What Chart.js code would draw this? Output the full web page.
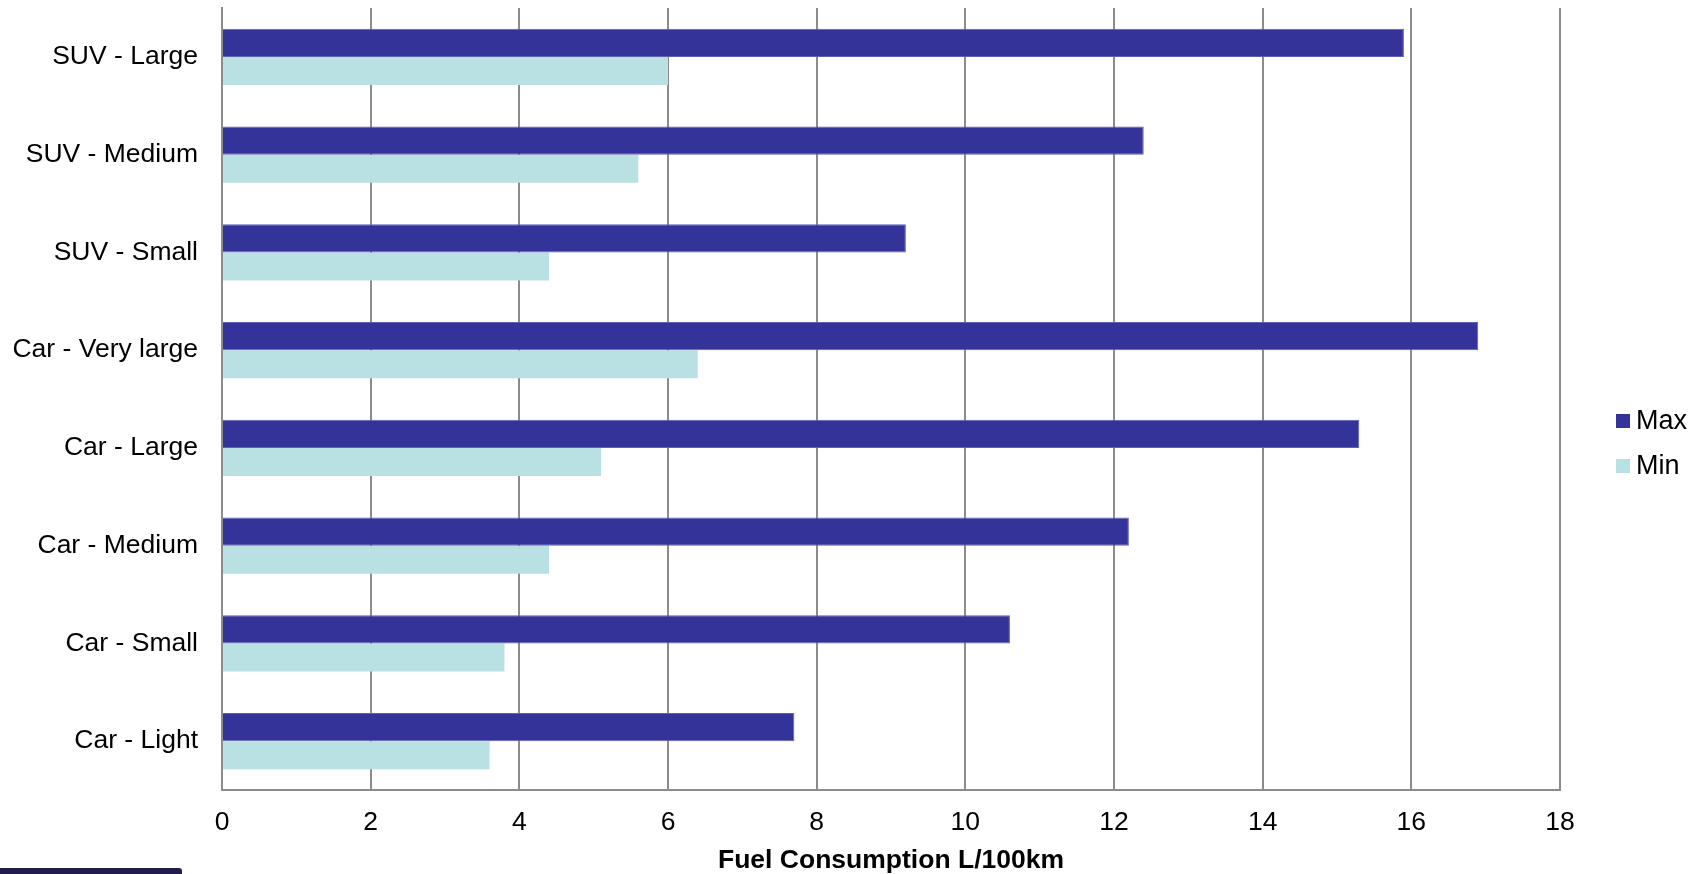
<!DOCTYPE html>
<html>
<head>
<meta charset="utf-8">
<title>Fuel Consumption</title>
<script src="https://cdn.jsdelivr.net/npm/chart.js@4/dist/chart.umd.min.js"></script>
<style>
    html, body { margin: 0; padding: 0; background: #fff; }
    #wrap { position: relative; width: 1701px; height: 874px; }
    #legend {
        position: absolute; left: 1616px; top: 398px;
        font-family: "Liberation Sans", Arial, sans-serif; font-size: 27px; color: #000;
    }
    .legend-item { display: flex; align-items: center; height: 45px; }
    .legend-box { width: 14px; height: 14px; margin-right: 6px; }
    #corner {
        position: absolute; left: 0; top: 868px; width: 182px; height: 6px;
        background: #221c4c; border-top-right-radius: 3px;
    }
</style>
</head>
<body>
<div id="wrap">
    <canvas id="fuelChart" width="1701" height="874"></canvas>
    <div id="legend"></div>
    <div id="corner"></div>
</div>
<script>
// Chart data
const categories = ['SUV - Large', 'SUV - Medium', 'SUV - Small', 'Car - Very large',
    'Car - Large', 'Car - Medium', 'Car - Small', 'Car - Light'];
const maxValues = [15.9, 12.4, 9.2, 16.9, 15.3, 12.2, 10.6, 7.7];
const minValues = [6.0, 5.6, 4.4, 6.4, 5.1, 4.4, 3.8, 3.6];
const xTicks = [0, 2, 4, 6, 8, 10, 12, 14, 16, 18];

const FONT = '"Liberation Sans", Arial, sans-serif';
const GRID = '#8c8c8c';

document.addEventListener('DOMContentLoaded', function() {
    const chart = initializeFuelChart();
    buildLegend(chart);
});

function initializeFuelChart() {
    const ctx = document.getElementById('fuelChart').getContext('2d');

    return new Chart(ctx, {
        type: 'bar',
        data: {
            labels: categories,
            datasets: [
                {
                    label: 'Max',
                    data: maxValues,
                    backgroundColor: '#333399',
                    borderColor: '#5f5fb5',
                    borderWidth: { top: 1, bottom: 1, right: 1, left: 0 },
                    borderSkipped: false
                },
                {
                    label: 'Min',
                    data: minValues,
                    backgroundColor: '#b9e0e3',
                    borderWidth: 0
                }
            ]
        },
        options: {
            indexAxis: 'y',
            responsive: false,
            animation: false,
            datasets: {
                bar: {
                    categoryPercentage: 0.573,
                    barPercentage: 1
                }
            },
            layout: {
                padding: { top: 8, right: 141, left: 0, bottom: 0 }
            },
            plugins: {
                legend: { display: false },
                tooltip: { enabled: false }
            },
            scales: {
                x: {
                    min: 0,
                    max: 18,
                    afterBuildTicks: function(scale) {
                        scale.ticks = xTicks.map(v => ({ value: v }));
                    },
                    afterFit: function(scale) {
                        scale.height = 84;
                    },
                    grid: {
                        color: GRID,
                        lineWidth: 2,
                        drawTicks: false
                    },
                    border: { color: GRID, width: 2 },
                    ticks: {
                        color: '#000',
                        padding: 17,
                        font: { family: FONT, size: 26.5 }
                    },
                    title: {
                        display: true,
                        text: 'Fuel Consumption L/100km',
                        color: '#000',
                        padding: { top: 0, bottom: 0 },
                        font: { family: FONT, size: 26.5, weight: 'bold', lineHeight: 1.0 }
                    }
                },
                y: {
                    afterFit: function(scale) {
                        // fixed axis width, and no extra room above/below for the labels
                        scale.width = 222;
                        scale.paddingTop = 0;
                        scale.paddingBottom = 0;
                    },
                    grid: { display: false, drawTicks: false },
                    border: { color: GRID, width: 2 },
                    ticks: {
                        color: '#000',
                        padding: 24,
                        font: { family: FONT, size: 26.5 }
                    }
                }
            }
        }
    });
}

// Simple HTML legend from the datasets
function buildLegend(chart) {
    const box = document.getElementById('legend');
    chart.data.datasets.forEach(ds => {
        const item = document.createElement('div');
        item.className = 'legend-item';
        const swatch = document.createElement('span');
        swatch.className = 'legend-box';
        swatch.style.background = ds.backgroundColor;
        const text = document.createElement('span');
        text.textContent = ds.label;
        item.appendChild(swatch);
        item.appendChild(text);
        box.appendChild(item);
    });
}
</script>
</body>
</html>
